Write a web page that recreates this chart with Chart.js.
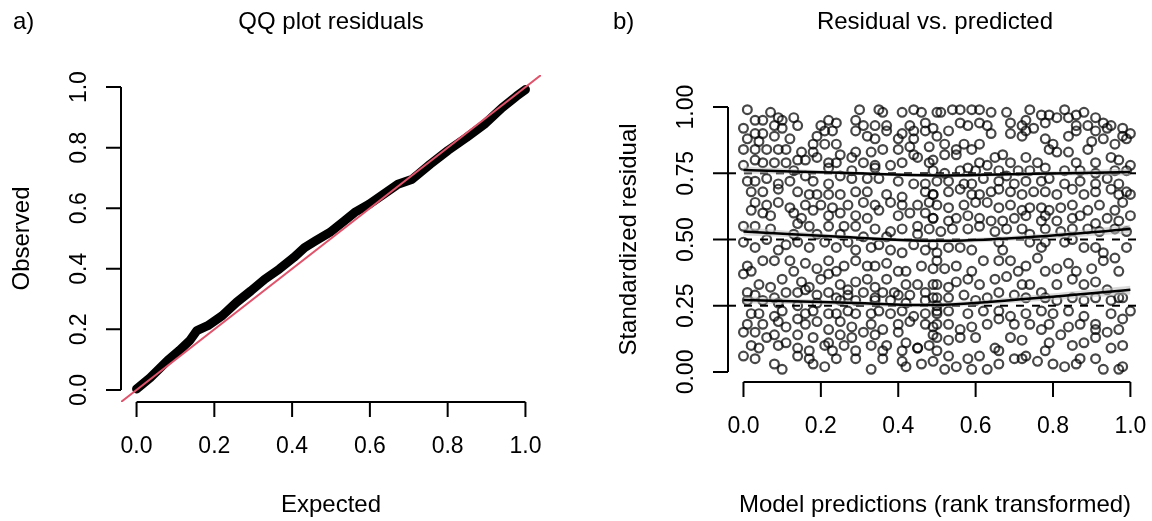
<!DOCTYPE html>
<html>
<head>
<meta charset="utf-8">
<script src="https://cdn.jsdelivr.net/npm/chart.js@4.4.1/dist/chart.umd.min.js"></script>
<style>
body { margin: 0; background: #fff; }
#wrap { position: relative; width: 1152px; height: 521px; background: #fff; }
canvas { position: absolute; top: 0; }
#qq { left: 0; }
#res { left: 576px; }
</style>
</head>
<body>
<div id="wrap">
<canvas id="qq" width="576" height="521"></canvas>
<canvas id="res" width="576" height="521"></canvas>
</div>
<script>
// a) QQ plot: expected vs observed quantiles (read off the band)
const qqExpected = [0, 0.035, 0.08, 0.11, 0.137, 0.155, 0.183, 0.22, 0.257, 0.294, 0.33, 0.367, 0.404, 0.432, 0.46, 0.497, 0.534, 0.561, 0.598, 0.635, 0.672, 0.709, 0.755, 0.801, 0.848, 0.894, 0.94, 0.977, 1.0];
const qqObserved = [0.003, 0.04, 0.097, 0.13, 0.163, 0.196, 0.212, 0.245, 0.289, 0.327, 0.366, 0.399, 0.437, 0.47, 0.492, 0.52, 0.558, 0.586, 0.613, 0.646, 0.679, 0.696, 0.745, 0.791, 0.833, 0.877, 0.932, 0.97, 0.992];
const qqTicks = [0, 0.2, 0.4, 0.6, 0.8, 1.0];
const qqLim = [-0.04, 1.04];

// b) residual vs predicted, [prediction, residual] read in four blocks
const residTopLeft = [
  [0.01,0.99],[0.07,0.98],[0.09,0.96],[0.13,0.96],[0.30,0.99],[0.35,0.99],[0.36,0.98],[0.41,0.98],[0.44,0.99],[0.46,0.98],[0.50,0.98],
  [0.03,0.95],[0.05,0.95],[0.08,0.93],[0.10,0.95],[0.14,0.93],[0.20,0.93],[0.22,0.95],[0.24,0.94],[0.29,0.95],[0.31,0.93],[0.34,0.93],[0.37,0.93],[0.43,0.93],[0.47,0.94],[0.49,0.92],
  [0.00,0.92],[0.03,0.90],[0.05,0.90],[0.10,0.92],[0.08,0.89],[0.12,0.88],[0.19,0.89],[0.21,0.91],[0.23,0.91],[0.29,0.91],[0.32,0.89],[0.34,0.88],[0.37,0.91],[0.40,0.88],[0.41,0.90],[0.44,0.88],[0.47,0.91],[0.44,0.91],
  [0.01,0.88],[0.04,0.87],[0.00,0.84],[0.03,0.84],[0.06,0.84],[0.09,0.84],[0.11,0.84],[0.15,0.83],[0.18,0.83],[0.18,0.86],[0.21,0.86],[0.24,0.86],[0.25,0.82],[0.29,0.83],[0.33,0.83],[0.36,0.84],[0.40,0.84],[0.43,0.85],[0.48,0.85],[0.44,0.82],
  [0.00,0.78],[0.03,0.80],[0.05,0.79],[0.08,0.79],[0.11,0.79],[0.14,0.80],[0.16,0.80],[0.19,0.81],[0.22,0.79],[0.24,0.79],[0.28,0.81],[0.31,0.79],[0.34,0.78],[0.38,0.78],[0.41,0.79],[0.45,0.81],[0.48,0.79],[0.49,0.76],[0.28,0.76],[0.34,0.77],[0.22,0.77],[0.13,0.76],
  [0.01,0.72],[0.03,0.72],[0.06,0.73],[0.09,0.71],[0.12,0.72],[0.16,0.74],[0.18,0.72],[0.22,0.71],[0.25,0.74],[0.28,0.73],[0.32,0.73],[0.35,0.73],[0.40,0.72],[0.44,0.71],[0.47,0.71],
  [0.02,0.68],[0.05,0.68],[0.09,0.69],[0.14,0.68],[0.17,0.67],[0.19,0.67],[0.22,0.67],[0.25,0.67],[0.29,0.68],[0.32,0.68],[0.37,0.67],[0.41,0.66],[0.47,0.68],[0.49,0.67],
  [0.03,0.64],[0.06,0.63],[0.09,0.64],[0.12,0.62],[0.16,0.63],[0.20,0.63],[0.23,0.62],[0.27,0.63],[0.31,0.64],[0.34,0.63],[0.38,0.64],[0.41,0.63],[0.45,0.63],[0.48,0.64],
  [0.02,0.61],[0.05,0.60],[0.07,0.59],[0.13,0.60],[0.15,0.58],[0.18,0.61],[0.22,0.59],[0.25,0.60],[0.29,0.59],[0.32,0.58],[0.35,0.61],[0.40,0.59],[0.43,0.60],[0.47,0.60],[0.49,0.58],
  [0.00,0.55],[0.03,0.55],[0.07,0.54],[0.14,0.56],[0.17,0.55],[0.22,0.55],[0.26,0.55],[0.29,0.55],[0.34,0.54],[0.38,0.53],[0.41,0.54],[0.45,0.55],[0.48,0.54],[0.13,0.52],[0.19,0.52],[0.25,0.52],[0.31,0.51],[0.37,0.51],[0.45,0.52]
];
const residTopRight = [
  [0.51,0.98],[0.54,0.99],[0.56,0.99],[0.59,0.99],[0.61,0.99],[0.64,0.98],[0.68,0.98],[0.74,0.99],[0.77,0.97],[0.79,0.97],[0.83,0.99],[0.86,0.97],[0.88,0.98],[0.91,0.96],[0.93,0.94],[0.95,0.93],[0.98,0.92],[1.00,0.90],
  [0.53,0.91],[0.56,0.94],[0.58,0.93],[0.61,0.94],[0.63,0.93],[0.69,0.94],[0.72,0.93],[0.73,0.95],[0.75,0.92],[0.78,0.94],[0.81,0.96],[0.84,0.96],[0.86,0.93],[0.89,0.93],[0.91,0.91],[0.94,0.92],[0.98,0.89],
  [0.50,0.89],[0.52,0.86],[0.55,0.84],[0.57,0.86],[0.59,0.84],[0.61,0.86],[0.64,0.90],[0.69,0.90],[0.72,0.89],[0.73,0.91],[0.78,0.88],[0.80,0.86],[0.84,0.89],[0.86,0.91],[0.90,0.87],[0.93,0.88],[0.96,0.86],[0.99,0.88],
  [0.49,0.80],[0.52,0.82],[0.55,0.82],[0.58,0.77],[0.61,0.79],[0.65,0.81],[0.67,0.82],[0.69,0.79],[0.73,0.81],[0.76,0.79],[0.79,0.84],[0.81,0.83],[0.84,0.83],[0.86,0.79],[0.89,0.84],[0.91,0.79],[0.95,0.81],[0.97,0.80],[1.00,0.78],
  [0.52,0.75],[0.56,0.76],[0.60,0.76],[0.63,0.78],[0.66,0.76],[0.71,0.76],[0.74,0.76],[0.78,0.77],[0.83,0.76],[0.87,0.76],[0.91,0.75],[0.96,0.76],[0.99,0.76],
  [0.50,0.72],[0.53,0.72],[0.57,0.71],[0.59,0.71],[0.62,0.73],[0.66,0.72],[0.68,0.74],[0.70,0.71],[0.73,0.72],[0.77,0.72],[0.79,0.73],[0.83,0.71],[0.87,0.72],[0.91,0.71],[0.94,0.73],[0.97,0.71],[0.99,0.68],
  [0.49,0.67],[0.53,0.68],[0.56,0.69],[0.59,0.67],[0.61,0.67],[0.64,0.68],[0.66,0.69],[0.69,0.68],[0.72,0.67],[0.75,0.68],[0.78,0.68],[0.81,0.67],[0.85,0.69],[0.88,0.67],[0.91,0.68],[0.95,0.69],[0.97,0.67],[1.00,0.67],
  [0.50,0.63],[0.53,0.62],[0.57,0.63],[0.60,0.64],[0.63,0.64],[0.66,0.62],[0.69,0.63],[0.72,0.61],[0.74,0.62],[0.77,0.62],[0.79,0.61],[0.82,0.62],[0.85,0.63],[0.89,0.61],[0.92,0.63],[0.96,0.61],[0.98,0.64],
  [0.49,0.58],[0.53,0.57],[0.55,0.58],[0.58,0.59],[0.61,0.58],[0.64,0.57],[0.67,0.57],[0.70,0.58],[0.73,0.59],[0.77,0.57],[0.78,0.59],[0.81,0.57],[0.85,0.58],[0.87,0.59],[0.91,0.56],[0.94,0.58],[0.97,0.57],[1.00,0.59],
  [0.51,0.53],[0.54,0.54],[0.58,0.54],[0.61,0.55],[0.65,0.53],[0.68,0.54],[0.72,0.54],[0.74,0.52],[0.78,0.54],[0.82,0.53],[0.85,0.54],[0.89,0.54],[0.92,0.53],[0.96,0.54],[0.99,0.53]
];
const residBottomLeft = [
  [0.00,0.49],[0.03,0.47],[0.06,0.50],[0.09,0.46],[0.11,0.48],[0.14,0.49],[0.17,0.47],[0.21,0.49],[0.24,0.47],[0.27,0.49],[0.29,0.46],[0.33,0.47],[0.35,0.48],[0.38,0.46],[0.41,0.45],[0.44,0.48],[0.47,0.46],[0.50,0.45],
  [0.01,0.40],[0.02,0.38],[0.05,0.42],[0.08,0.42],[0.12,0.42],[0.16,0.41],[0.19,0.39],[0.22,0.42],[0.24,0.38],[0.26,0.40],[0.29,0.42],[0.32,0.40],[0.34,0.40],[0.37,0.41],[0.40,0.38],[0.42,0.38],[0.46,0.40],[0.49,0.39],
  [0.00,0.37],[0.04,0.33],[0.07,0.32],[0.10,0.35],[0.13,0.38],[0.15,0.34],[0.17,0.32],[0.20,0.35],[0.22,0.37],[0.25,0.33],[0.27,0.31],[0.29,0.34],[0.32,0.35],[0.34,0.32],[0.37,0.35],[0.39,0.30],[0.42,0.33],[0.45,0.33],[0.49,0.33],
  [0.01,0.30],[0.03,0.29],[0.08,0.28],[0.11,0.30],[0.14,0.30],[0.16,0.31],[0.19,0.29],[0.22,0.30],[0.24,0.28],[0.27,0.29],[0.31,0.30],[0.34,0.28],[0.36,0.30],[0.40,0.29],[0.43,0.29],[0.47,0.30],[0.49,0.28],
  [0.01,0.27],[0.05,0.27],[0.09,0.26],[0.14,0.25],[0.19,0.26],[0.25,0.27],[0.29,0.27],[0.34,0.27],[0.38,0.27],[0.42,0.26],[0.47,0.27],[0.50,0.25],
  [0.02,0.22],[0.04,0.22],[0.08,0.21],[0.10,0.23],[0.14,0.20],[0.16,0.22],[0.18,0.23],[0.22,0.22],[0.24,0.22],[0.27,0.23],[0.29,0.22],[0.33,0.22],[0.35,0.23],[0.38,0.22],[0.41,0.23],[0.44,0.21],[0.47,0.22],[0.50,0.22],
  [0.01,0.18],[0.05,0.18],[0.09,0.19],[0.11,0.17],[0.16,0.18],[0.19,0.19],[0.22,0.16],[0.25,0.19],[0.28,0.17],[0.33,0.18],[0.36,0.16],[0.40,0.18],[0.43,0.19],[0.47,0.18],[0.50,0.18],
  [0.00,0.15],[0.03,0.15],[0.06,0.13],[0.08,0.14],[0.11,0.11],[0.14,0.14],[0.18,0.13],[0.22,0.11],[0.25,0.14],[0.28,0.13],[0.31,0.15],[0.34,0.14],[0.37,0.10],[0.40,0.15],[0.42,0.11],[0.45,0.09],[0.49,0.14],
  [0.02,0.10],[0.04,0.09],[0.09,0.10],[0.14,0.09],[0.17,0.08],[0.21,0.10],[0.23,0.08],[0.26,0.10],[0.29,0.08],[0.33,0.10],[0.36,0.08],[0.41,0.08],[0.45,0.09],[0.48,0.10],
  [0.00,0.06],[0.03,0.05],[0.08,0.03],[0.10,0.01],[0.14,0.06],[0.17,0.05],[0.18,0.03],[0.21,0.02],[0.24,0.05],[0.29,0.05],[0.33,0.01],[0.36,0.05],[0.41,0.04],[0.42,0.02],[0.46,0.03],[0.49,0.04]
];
const residBottomRight = [
  [0.49,0.48],[0.53,0.47],[0.56,0.47],[0.59,0.46],[0.66,0.49],[0.67,0.46],[0.74,0.49],[0.77,0.47],[0.78,0.49],[0.83,0.49],[0.85,0.50],[0.88,0.47],[0.91,0.47],[0.93,0.45],[0.96,0.43],[0.99,0.47],
  [0.50,0.42],[0.52,0.39],[0.55,0.40],[0.59,0.38],[0.62,0.42],[0.66,0.42],[0.69,0.42],[0.71,0.38],[0.73,0.40],[0.76,0.43],[0.78,0.38],[0.81,0.39],[0.84,0.41],[0.86,0.38],[0.90,0.39],[0.93,0.42],[0.97,0.38],
  [0.50,0.33],[0.53,0.32],[0.55,0.34],[0.58,0.35],[0.61,0.33],[0.65,0.35],[0.68,0.36],[0.72,0.33],[0.74,0.33],[0.77,0.30],[0.81,0.33],[0.85,0.35],[0.88,0.33],[0.91,0.34],[0.94,0.31],[0.97,0.28],
  [0.50,0.28],[0.53,0.28],[0.57,0.29],[0.60,0.27],[0.63,0.28],[0.66,0.30],[0.70,0.29],[0.73,0.28],[0.78,0.28],[0.81,0.27],[0.85,0.28],[0.88,0.27],[0.91,0.28],[0.95,0.27],[0.98,0.28],
  [0.50,0.23],[0.53,0.23],[0.58,0.22],[0.62,0.23],[0.66,0.23],[0.69,0.21],[0.73,0.22],[0.77,0.23],[0.80,0.22],[0.84,0.23],[0.88,0.21],[0.91,0.18],[0.95,0.22],[0.98,0.20],[1.00,0.23],
  [0.49,0.17],[0.53,0.18],[0.56,0.16],[0.59,0.17],[0.63,0.18],[0.66,0.20],[0.70,0.18],[0.74,0.18],[0.77,0.16],[0.79,0.18],[0.84,0.17],[0.87,0.18],[0.91,0.16],[0.94,0.15],[0.97,0.16],
  [0.50,0.13],[0.53,0.12],[0.56,0.13],[0.60,0.13],[0.65,0.09],[0.66,0.08],[0.69,0.13],[0.72,0.12],[0.78,0.08],[0.79,0.11],[0.82,0.14],[0.85,0.10],[0.88,0.11],[0.91,0.13],[0.95,0.09],[0.98,0.10],
  [0.50,0.08],[0.53,0.06],[0.58,0.05],[0.61,0.06],[0.66,0.03],[0.70,0.05],[0.73,0.06],[0.76,0.04],[0.80,0.03],[0.83,0.02],[0.87,0.05],[0.91,0.05],[0.93,0.01],[0.97,0.01],[0.98,0.02],
  [0.52,0.01],[0.55,0.02],[0.59,0.01],[0.63,0.01],[0.72,0.05],[0.86,0.03]
];

// quantile regression curves (0.25 / 0.5 / 0.75) with their grey bands
const quantX = [0, 0.25, 0.5, 0.75, 1.0];
const quantLevels = [0.25, 0.5, 0.75];
const q25 = [0.272, 0.262, 0.253, 0.278, 0.31];
const q25Lo = [0.258, 0.252, 0.245, 0.266, 0.292];
const q25Hi = [0.286, 0.27, 0.261, 0.29, 0.325];
const q50 = [0.53, 0.51, 0.495, 0.51, 0.54];
const q50Lo = [0.515, 0.502, 0.487, 0.5, 0.524];
const q50Hi = [0.546, 0.518, 0.503, 0.52, 0.556];
const q75 = [0.762, 0.752, 0.742, 0.748, 0.755];
const q75Lo = [0.748, 0.745, 0.735, 0.741, 0.742];
const q75Hi = [0.776, 0.759, 0.749, 0.755, 0.768];
const resXTicks = [0, 0.2, 0.4, 0.6, 0.8, 1.0];
const resYTicks = [0, 0.25, 0.5, 0.75, 1.0];
const resXLim = [-0.04, 1.03];
const resYLim = [-0.038, 1.038];

const FONT = '"Liberation Sans", Arial, Helvetica, sans-serif';

function toXY(xs, ys) {
    return xs.map((x, i) => ({ x: x, y: ys[i] }));
}

// R-style axes: line only between first and last tick, labels parallel to axis
const rAxes = {
    id: 'rAxes',
    afterDraw(chart, args, o) {
        const ctx = chart.ctx;
        const a = chart.chartArea;
        const sx = chart.scales.x, sy = chart.scales.y;
        ctx.save();
        ctx.strokeStyle = '#000';
        ctx.fillStyle = '#000';
        ctx.lineWidth = 2;
        ctx.beginPath();
        ctx.moveTo(sx.getPixelForValue(o.xTicks[0]), a.bottom);
        ctx.lineTo(sx.getPixelForValue(o.xTicks[o.xTicks.length - 1]), a.bottom);
        o.xTicks.forEach(v => {
            const px = sx.getPixelForValue(v);
            ctx.moveTo(px, a.bottom);
            ctx.lineTo(px, a.bottom + 15);
        });
        ctx.moveTo(a.left, sy.getPixelForValue(o.yTicks[0]));
        ctx.lineTo(a.left, sy.getPixelForValue(o.yTicks[o.yTicks.length - 1]));
        o.yTicks.forEach(v => {
            const py = sy.getPixelForValue(v);
            ctx.moveTo(a.left, py);
            ctx.lineTo(a.left - 15, py);
        });
        ctx.stroke();

        ctx.font = '23px ' + FONT;
        ctx.textAlign = 'center';
        ctx.textBaseline = 'alphabetic';
        o.xTicks.forEach(v => ctx.fillText(v.toFixed(o.xDigits), sx.getPixelForValue(v), a.bottom + 51));
        o.yTicks.forEach(v => {
            ctx.save();
            ctx.translate(a.left - 35, sy.getPixelForValue(v));
            ctx.rotate(-Math.PI / 2);
            ctx.fillText(v.toFixed(o.yDigits), 0, 0);
            ctx.restore();
        });

        // axis titles
        const cx = (a.left + a.right) / 2;
        const cy = (a.top + a.bottom) / 2;
        ctx.font = '24px ' + FONT;
        ctx.fillText(o.xTitle, cx, 512);
        ctx.save();
        ctx.translate(a.left - 92, cy);
        ctx.rotate(-Math.PI / 2);
        ctx.fillText(o.yTitle, 0, 0);
        ctx.restore();

        // main title and panel tag
        ctx.fillText(o.main, cx, 29);
        ctx.textAlign = 'left';
        ctx.fillText(o.tag, o.tagX, 29);
        ctx.restore();
    }
};

function baseOptions(xLim, yLim, padding, axes) {
    return {
        responsive: false,
        animation: false,
        devicePixelRatio: 1,
        layout: { padding: padding },
        scales: {
            x: { type: 'linear', display: false, min: xLim[0], max: xLim[1] },
            y: { type: 'linear', display: false, min: yLim[0], max: yLim[1] }
        },
        plugins: {
            legend: { display: false },
            tooltip: { enabled: false },
            rAxes: axes
        }
    };
}

// Panel a
new Chart(document.getElementById('qq'), {
    type: 'scatter',
    data: {
        datasets: [
            {
                data: toXY(qqExpected, qqObserved),
                showLine: true,
                borderColor: '#000',
                borderWidth: 9,
                borderCapStyle: 'round',
                borderJoinStyle: 'round',
                pointRadius: 0,
                order: 2
            },
            {
                data: toXY(qqLim, qqLim),
                showLine: true,
                borderColor: '#DF536B',
                borderWidth: 2,
                pointRadius: 0,
                order: 1
            }
        ]
    },
    options: baseOptions(qqLim, qqLim, { left: 121, right: 35, top: 75, bottom: 119 }, {
        xTicks: qqTicks, yTicks: qqTicks, xDigits: 1, yDigits: 1,
        xTitle: 'Expected', yTitle: 'Observed', main: 'QQ plot residuals', tag: 'a)', tagX: 13
    }),
    plugins: [rAxes]
});

// Panel b
const residPoints = residTopLeft.concat(residTopRight, residBottomLeft, residBottomRight)
    .map(p => ({ x: p[0], y: p[1] }));

const resDatasets = [{
    data: residPoints,
    pointRadius: 4.4,
    pointBorderWidth: 2.2,
    pointBorderColor: 'rgba(0,0,0,0.72)',
    pointBackgroundColor: 'rgba(0,0,0,0)',
    order: 10
}];

quantLevels.forEach(q => {
    resDatasets.push({
        data: toXY(resXLim, [q, q]),
        showLine: true,
        borderColor: '#000',
        borderWidth: 2,
        borderDash: [8, 8],
        pointRadius: 0,
        order: 9
    });
});

[[q25, q25Lo, q25Hi], [q50, q50Lo, q50Hi], [q75, q75Lo, q75Hi]].forEach(set => {
    resDatasets.push({
        data: toXY(quantX, set[1]),
        showLine: true,
        borderColor: 'rgba(0,0,0,0)',
        backgroundColor: 'rgba(190,190,190,0.55)',
        fill: '+1',
        tension: 0.4,
        pointRadius: 0,
        order: 5
    });
    resDatasets.push({
        data: toXY(quantX, set[2]),
        showLine: true,
        borderColor: 'rgba(0,0,0,0)',
        tension: 0.4,
        pointRadius: 0,
        order: 5
    });
    resDatasets.push({
        data: toXY(quantX, set[0]),
        showLine: true,
        borderColor: '#000',
        borderWidth: 2.5,
        tension: 0.4,
        pointRadius: 0,
        order: 1
    });
});

new Chart(document.getElementById('res'), {
    type: 'scatter',
    data: { datasets: resDatasets },
    options: baseOptions(resXLim, resYLim, { left: 152, right: 10, top: 97, bottom: 139 }, {
        xTicks: resXTicks, yTicks: resYTicks, xDigits: 1, yDigits: 2,
        xTitle: 'Model predictions (rank transformed)', yTitle: 'Standardized residual',
        main: 'Residual vs. predicted', tag: 'b)', tagX: 37
    }),
    plugins: [rAxes]
});
</script>
</body>
</html>
